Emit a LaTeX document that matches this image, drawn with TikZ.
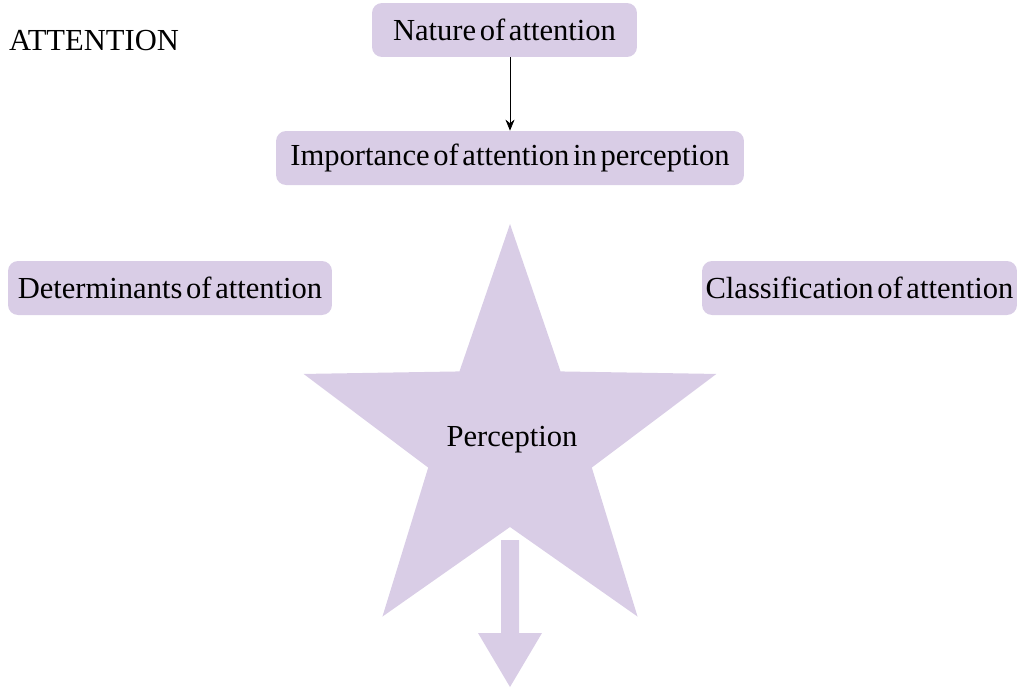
\documentclass[tikz,border=0pt]{standalone}
\usepackage{fontspec}
\usetikzlibrary{arrows.meta}
\newfontfamily\chartserif{Liberation Serif}
\definecolor{lilac}{RGB}{217,205,230}
\newcommand\chartfont{\chartserif\fontsize{17.4}{20}\selectfont\spaceskip=0.12em\relax}

\tikzset{
  topicbox/.style={fill=lilac, rounded corners=0.2cm, minimum height=1.08cm, inner sep=2pt}
}

\begin{document}
\begin{tikzpicture}[x=0.02cm,y=-0.02cm,>={Stealth[length=2.2mm,width=1.8mm]},font=\chartfont]
            % page frame
            \useasboundingbox (0,0) rectangle (1024,687);
            \node (title) at (94,41) {ATTENTION};
            % boxes round the star
            \node[topicbox, minimum width=5.3cm] (nature) at (504.5,30) {Nature of attention};
            \node[topicbox, minimum width=9.36cm] (importance) at (510,158) {Importance of attention in perception};
            \node[topicbox, minimum width=6.48cm] (determinants) at (170,288) {Determinants of attention};
            \node[topicbox, minimum width=6.26cm] (classification) at (859.5,288) {Classification of attention};
            \draw[->, thin] (importance.north |- nature.south) -- (importance.north);
            % the star and the arrow under it
            \fill[lilac, shift={(510,441)}] (-90:217)
                \foreach \k in {0,...,4} { -- (-54+72*\k:86) -- (-18+72*\k:217) } -- cycle;
            \node (perception) at (512,440) {Perception};
            \fill[lilac] (501,540) -- (519,540) -- (519,633) -- (542,633) -- (510,687)
                -- (478,633) -- (501,633) -- cycle;
\end{tikzpicture}
\end{document}
